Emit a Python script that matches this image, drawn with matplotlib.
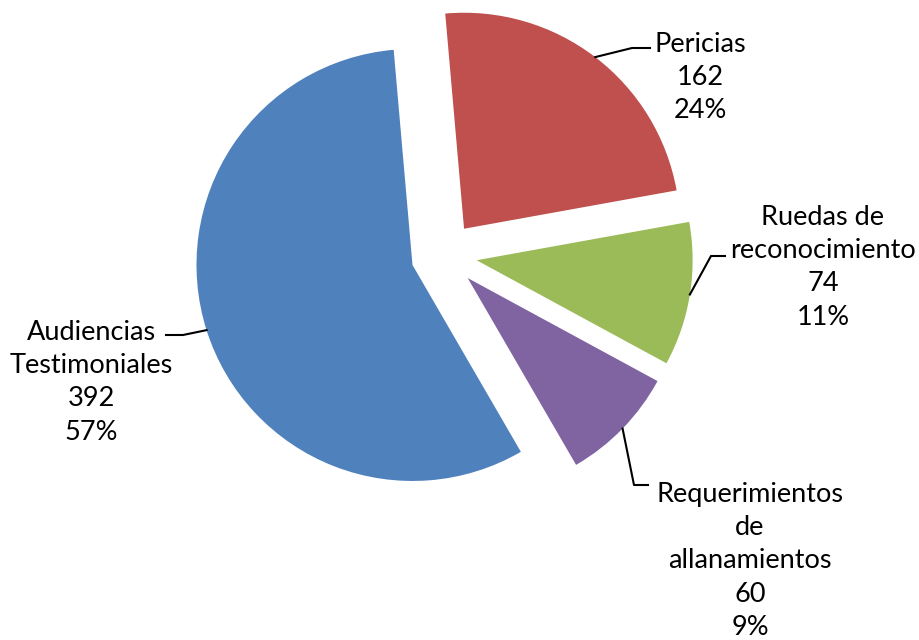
import numpy as np
import matplotlib
matplotlib.use('Agg')
import matplotlib.pyplot as plt

labels = ['Pericias', 'Ruedas de\nreconocimiento', 'Requerimientos\nde\nallanamientos',
          'Audiencias\nTestimoniales']
values = [162, 74, 60, 392]
colors = ['#C0504D', '#9BBB59', '#8064A2', '#4F81BD']

# layout (image pixels, y down)
W, H = 920, 640
cx, cy, R = 444, 255, 216
expl = 0.153


def px(x, y):
    # image pixel -> data units (radius = 1, centre at 0,0)
    return (x - cx) / R, (cy - y) / R


plt.rcParams['font.family'] = ['Lato', 'DejaVu Sans']
fig = plt.figure(figsize=(W / 100, H / 100), dpi=100)
ax = fig.add_axes([0, 0, 1, 1])
wedges, _ = ax.pie(values, colors=colors, startangle=95, counterclock=False,
                   explode=[expl] * len(values), radius=1, center=(0, 0),
                   wedgeprops=dict(linewidth=0))
ax.set_xlim(-cx / R, (W - cx) / R)
ax.set_ylim(-(H - cy) / R, cy / R)
ax.set_aspect('equal')
ax.axis('off')

total = sum(values)
# text centre (x, top y), leader corner, leader end (pixels)
lab_pos = [(700, 32), (823, 205), (750, 482), (91, 320)]
lead = [[(632, 48), (650, 48)],
        [(711, 256), (725, 256)],
        [(634, 485), (648, 485)],
        [(183, 335), (166, 335)]]

for i, w in enumerate(wedges):
    pct = values[i] / total * 100
    txt = '{}\n{}\n{:.0f}%'.format(labels[i], values[i], pct)
    x, y = px(*lab_pos[i])
    ax.text(x, y, txt, ha='center', va='top', fontsize=19.5,
            linespacing=1.41, color='black')
    th = np.deg2rad((w.theta1 + w.theta2) / 2)
    ex, ey = w.center
    sx = ex + np.cos(th)
    sy = ey + np.sin(th)
    pts = [px(*p) for p in lead[i]]
    ax.plot([sx, pts[0][0], pts[1][0]], [sy, pts[0][1], pts[1][1]],
            color='black', lw=1.5)

fig.savefig('out.png', dpi=100, facecolor='white')
